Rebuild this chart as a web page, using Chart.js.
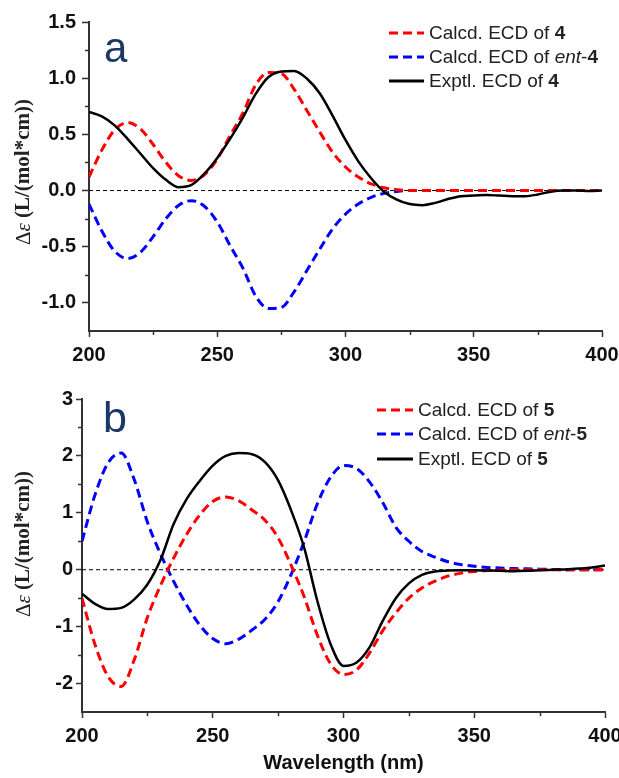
<!DOCTYPE html>
<html><head><meta charset="utf-8">
<script src="https://cdn.jsdelivr.net/npm/chart.js@4.4.1/dist/chart.umd.min.js"></script>
<style>
html,body{margin:0;padding:0;background:#fff;}
#wrap{position:relative;width:619px;height:778px;overflow:hidden;}
.box{position:absolute;left:0;width:619px;}
</style></head><body>
<div id="wrap">
<div class="box" style="top:0;height:370px"><canvas id="c1" width="619" height="370"></canvas></div>
<div class="box" style="top:370px;height:408px"><canvas id="c2" width="619" height="408"></canvas></div>
</div>
<script>
// ---------- data ----------
const wavelength = [200,205,210,215,220,225,230,235,240,245,250,255,260,265,270,275,280,285,290,295,300,305,310,315,320,325,330,335,340,345,350,355,360,365,370,375,380,385,390,395,400];

const calcd4 = [0.12,0.36,0.54,0.605,0.55,0.41,0.25,0.13,0.09,0.14,0.28,0.49,0.69,0.94,1.05,1.04,0.90,0.71,0.52,0.34,0.21,0.12,0.06,0.025,0.008,0,0,0,0,0,0,0,0,0,0,0,0,0,0,0,0];
const ent4 = [-0.12,-0.36,-0.54,-0.605,-0.55,-0.41,-0.25,-0.13,-0.09,-0.14,-0.28,-0.49,-0.69,-0.94,-1.05,-1.04,-0.90,-0.71,-0.52,-0.34,-0.21,-0.12,-0.06,-0.025,-0.008,0,0,0,0,0,0,0,0,0,0,0,0,0,0,0,0];
const exptl4 = [0.70,0.66,0.58,0.46,0.33,0.20,0.095,0.03,0.05,0.15,0.29,0.46,0.65,0.86,1.01,1.06,1.065,0.995,0.864,0.665,0.45,0.26,0.11,-0.01,-0.08,-0.12,-0.13,-0.11,-0.075,-0.05,-0.045,-0.04,-0.045,-0.05,-0.05,-0.035,-0.01,0,0,-0.005,0];

const calcd5 = [-0.50,-1.32,-1.88,-2.05,-1.58,-0.84,-0.28,0.20,0.62,0.96,1.20,1.28,1.21,1.05,0.87,0.56,0.075,-0.48,-1.15,-1.65,-1.84,-1.76,-1.46,-1.07,-0.76,-0.50,-0.32,-0.20,-0.11,-0.06,-0.03,-0.015,-0.005,0,0,0,0,0,0,0,0];
const ent5 = [0.50,1.32,1.88,2.05,1.58,0.84,0.28,-0.20,-0.62,-0.97,-1.21,-1.30,-1.22,-1.06,-0.87,-0.56,-0.08,0.50,1.16,1.62,1.83,1.78,1.54,1.18,0.75,0.50,0.32,0.22,0.14,0.09,0.06,0.04,0.03,0.02,0.015,0.01,0.005,0,0,0,0];
const exptl5 = [-0.42,-0.60,-0.69,-0.67,-0.52,-0.26,0.17,0.80,1.24,1.56,1.83,2.00,2.05,2.03,1.89,1.57,1.04,0.38,-0.55,-1.30,-1.69,-1.63,-1.36,-0.90,-0.50,-0.24,-0.09,-0.03,-0.015,-0.01,-0.01,-0.015,-0.02,-0.025,-0.02,-0.01,0,0.005,0.02,0.04,0.075];

const xTicks = [200,250,300,350,400];
const xMinorTicks = [225,275,325,375];
const yTicksA = [-1.0,-0.5,0.0,0.5,1.0,1.5];
const yMinorTicksA = [-0.75,-0.25,0.25,0.75,1.25];
const yTicksB = [-2,-1,0,1,2,3];
const yMinorTicksB = [-1.5,-0.5,0.5,1.5,2.5];

// ---------- helpers ----------
const SANS = "'Liberation Sans', Arial, sans-serif";
const SERIF = "'Liberation Serif', 'Times New Roman', serif";
const AXIS = '#333333';

function pts(ys){ return wavelength.map((x,i)=>({x:x, y:ys[i]})); }

const decor = {
  id:'decor',
  afterDraw(chart, args, o){
    const ctx = chart.ctx, xs = chart.scales.x, ys = chart.scales.y;
    ctx.save();
    ctx.strokeStyle = AXIS; ctx.lineWidth = 1.5;
    o.minorX.forEach(v=>{ const p = Math.round(xs.getPixelForValue(v))+0.5; ctx.beginPath(); ctx.moveTo(p, xs.top); ctx.lineTo(p, xs.top+4); ctx.stroke(); });
    o.minorY.forEach(v=>{ const p = Math.round(ys.getPixelForValue(v))+0.5; ctx.beginPath(); ctx.moveTo(ys.right, p); ctx.lineTo(ys.right-4, p); ctx.stroke(); });
    ctx.fillStyle = '#1c3766'; ctx.font = o.letterFont; ctx.textAlign='left'; ctx.textBaseline='alphabetic';
    ctx.fillText(o.letter, o.letterX, o.letterY);
    const dss = chart.data.datasets.filter(d=>d.label);
    dss.forEach((d,i)=>{
      const y = o.legY[i];
      ctx.save();
      ctx.strokeStyle = d.borderColor; ctx.lineWidth = 3; ctx.setLineDash(d.borderDash||[]);
      ctx.beginPath(); ctx.moveTo(o.legX0, y); ctx.lineTo(o.legX1, y); ctx.stroke();
      ctx.restore();
      let x = o.legTX;
      ctx.fillStyle = '#222'; ctx.textBaseline='middle';
      d.label.split(/(ent|\d+$)/).filter(s=>s).forEach(s=>{
        let f = '19px ' + SANS;
        if (s === 'ent') f = 'italic 19px ' + SANS;
        else if (/^\d+$/.test(s)) f = 'bold 19px ' + SANS;
        ctx.font = f; ctx.fillText(s, x, y+1); x += ctx.measureText(s).width;
      });
    });
    ctx.translate(o.ytX, o.ytY); ctx.rotate(-Math.PI/2);
    const segs = [['\u0394', '21px '+SERIF], ['\u03b5', 'italic 21px '+SERIF], [' (L/(mol*cm))', 'bold 21px '+SERIF]];
    let tot = 0; segs.forEach(s=>{ ctx.font = s[1]; tot += ctx.measureText(s[0]).width; });
    let xx = -tot/2; ctx.fillStyle = '#222'; ctx.textBaseline='middle'; ctx.textAlign='left';
    segs.forEach(s=>{ ctx.font = s[1]; ctx.fillText(s[0], xx, 0); xx += ctx.measureText(s[0]).width; });
    ctx.restore();
  }
};

function makeChart(id, series, labels, yMin, yMax, yTicks, yMinor, geo, showXTitle, decorOpts, fmt){
  const ds = [
    {label:labels[0], data:pts(series[0]), borderColor:'#ff0000', borderWidth:3, borderDash:[9,5], order:1},
    {label:labels[1], data:pts(series[1]), borderColor:'#0000ff', borderWidth:3, borderDash:[9,5], order:2},
    {label:labels[2], data:pts(series[2]), borderColor:'#000000', borderWidth:2.5, borderDash:[], order:0},
    {label:'', data:[{x:xTicks[0],y:0},{x:xTicks[xTicks.length-1],y:0}], borderColor:'#000', borderWidth:1, borderDash:[4,3], order:3}
  ];
  return new Chart(document.getElementById(id), {
    type:'line',
    data:{datasets:ds},
    options:{
      responsive:false, animation:false,
      layout:{padding:{left:0, right:geo.padR, top:geo.padT, bottom:0}},
      elements:{point:{radius:0}, line:{cubicInterpolationMode:'monotone', fill:false}},
      plugins:{legend:{display:false}, tooltip:{enabled:false}, decor:decorOpts},
      scales:{
        x:{type:'linear', min:xTicks[0], max:xTicks[xTicks.length-1],
           afterBuildTicks:s=>{ s.ticks = xTicks.map(v=>({value:v})); },
           afterFit:s=>{ s.height = geo.xH; s.paddingLeft = 0; s.paddingRight = 0; },
           border:{display:true, color:AXIS, width:2},
           grid:{drawOnChartArea:false, drawTicks:true, tickLength:6, tickWidth:1.5, tickColor:AXIS},
           ticks:{color:'#111', font:{family:SANS, size:20, weight:'bold'}, padding:geo.xPad, maxRotation:0, autoSkip:false},
           title:{display:showXTitle, text:'Wavelength (nm)', color:'#111', font:{family:SANS, size:20, weight:'bold'}, padding:{top:0,bottom:3}}
        },
        y:{type:'linear', min:yMin, max:yMax,
           afterBuildTicks:s=>{ s.ticks = yTicks.map(v=>({value:v})); },
           afterFit:s=>{ s.width = geo.yW; s.paddingTop = 0; s.paddingBottom = 0; },
           border:{display:true, color:AXIS, width:2},
           grid:{drawOnChartArea:false, drawTicks:true, tickLength:geo.yTL, tickWidth:1.5, tickColor:AXIS},
           ticks:{color:'#111', font:{family:SANS, size:20, weight:'bold'}, padding:geo.yPad, callback:fmt, autoSkip:false}
        }
      }
    },
    plugins:[decor]
  });
}

makeChart('c1', [calcd4, ent4, exptl4], ['Calcd. ECD of 4','Calcd. ECD of ent-4','Exptl. ECD of 4'],
  -1.25, 1.5, yTicksA, yMinorTicksA,
  {padR:17, padT:22, xH:39, yW:89, xPad:6, yTL:7, yPad:6}, false,
  {minorX:xMinorTicks, minorY:yMinorTicksA, letter:'a', letterFont:'42px '+SANS, letterX:104, letterY:62,
   legY:[33,57,81], legX0:389, legX1:424, legTX:429, ytX:24, ytY:172},
  v=>Number(v).toFixed(1));

makeChart('c2', [calcd5, ent5, exptl5], ['Calcd. ECD of 5','Calcd. ECD of ent-5','Exptl. ECD of 5'],
  -2.5, 3, yTicksB, yMinorTicksB,
  {padR:14, padT:29, xH:66, yW:82, xPad:6, yTL:6, yPad:3}, true,
  {minorX:xMinorTicks, minorY:yMinorTicksB, letter:'b', letterFont:'43px '+SANS, letterX:103, letterY:62,
   legY:[40,64,89], legX0:377, legX1:413, legTX:418, ytX:24, ytY:174},
  v=>String(v));
</script>
</body></html>
